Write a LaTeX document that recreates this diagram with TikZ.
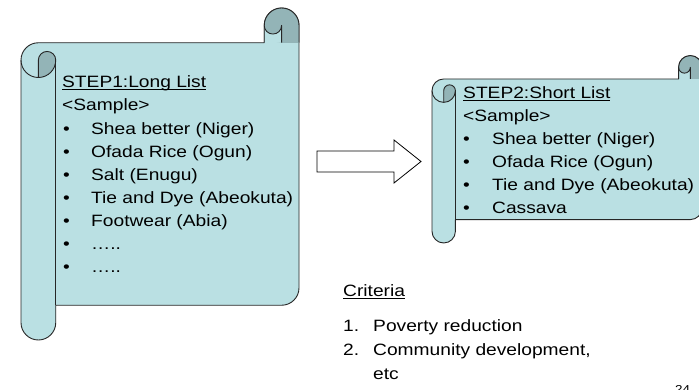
\documentclass[tikz,border=0pt]{standalone}
\usepackage{fontspec}
\setmainfont{Liberation Sans}[FakeStretch=1.17]
\definecolor{scrolllight}{RGB}{186,224,227}
\definecolor{scrolldark}{RGB}{147,180,183}
\newcommand\bodyfont{\fontsize{16.4}{23}\selectfont}
\newcommand\pagefont{\fontsize{11.5}{13}\selectfont}
% underline set close to the baseline
\newcommand\stepul[1]{\setbox0\hbox{#1}\rlap{\rule[-1.9pt]{\wd0}{1.1pt}}\box0}
% vertical scroll: #1 left, #2 top, #3 right, #4 bottom, #5 roll diameter
\newcommand\drawscroll[5]{%
  \pgfmathsetmacro\sL{#1}\pgfmathsetmacro\sT{#2}%
  \pgfmathsetmacro\sR{#3}\pgfmathsetmacro\sB{#4}%
  \pgfmathsetmacro\sc{#5}\pgfmathsetmacro\sh{#5/2}\pgfmathsetmacro\sq{#5/4}%
  \pgfmathsetmacro\sY{#2-#5}%
  % sheet with the left roll
  \draw[scrollline, fill=scrolllight]
    (\sL+\sh,\sY) -- (\sR-\sc,\sY) -- (\sR-\sc,\sT-\sh)
    arc[start angle=180,end angle=0,radius=\sh pt] -- (\sR,\sB+\sc+\sh)
    arc[start angle=0,end angle=-90,radius=\sh pt] -- (\sL+\sc,\sB+\sc)
    -- (\sL+\sc,\sB+\sh)
    arc[start angle=0,end angle=-180,radius=\sh pt] -- (\sL,\sY-\sh)
    arc[start angle=180,end angle=90,radius=\sh pt] -- cycle;
  % top right curl
  \fill[scrolldark] (\sR-\sh,\sT-\sh) circle[radius=\sh pt];
  \fill[scrolldark] (\sR-\sh,\sY) rectangle (\sR,\sT-\sh);
  \fill[scrolllight] (\sR-\sc,\sT-\sh) -- (\sR-\sc,\sY) -- (\sR-\sh,\sY)
    -- (\sR-\sh,\sT-\sh) arc[start angle=0,end angle=-180,radius=\sq pt] -- cycle;
  \draw[scrollline] (\sR-\sc,\sY) -- (\sR-\sc,\sT-\sh)
    arc[start angle=180,end angle=0,radius=\sh pt] -- (\sR,\sY);
  \draw[scrollline] (\sR-\sh,\sY) -- (\sR-\sh,\sT-\sh)
    arc[start angle=0,end angle=-180,radius=\sq pt];
  % top left curl
  \draw[scrollline, fill=scrolldark] (\sL+\sh,\sY-\sh) -- (\sL+\sh,\sY-\sc)
    arc[start angle=-90,end angle=0,radius=\sh pt]
    arc[start angle=0,end angle=180,radius=\sq pt] -- cycle;
  \draw[scrollline] (\sL,\sY-\sh) arc[start angle=180,end angle=270,radius=\sh pt];
  \draw[scrollline] (\sL+\sc,\sY-\sh) -- (\sL+\sc,\sB+\sc);
}
\tikzset{
  scrollline/.style={draw=black!85, line width=0.9pt, line join=round},
  txt/.style={anchor=base west, inner sep=0pt, font=\bodyfont},
  blockarrow/.style={draw=black, line width=0.8pt, fill=white, line join=miter}
}
\begin{document}
\begin{tikzpicture}[x=1pt,y=1pt]
  \path[use as bounding box, clip] (0,0) rectangle (699,390);
  \fill[white] (0,0) rectangle (699,390);

  % scrolls
  \drawscroll{21}{382}{299}{50}{34.75}
  \drawscroll{432}{334.4}{702}{147}{23.4}

  % long list
  \node[txt] (s1title) at (62,302) {\stepul{STEP1:Long List}};
  \node[txt] (s1sample) at (62,279) {<Sample>};
  \foreach [count=\i] \t in {Shea better (Niger), Ofada Rice (Ogun), Salt (Enugu),
      Tie and Dye (Abeokuta), Footwear (Abia), ….., …..} {
    \pgfmathsetmacro\yy{390-88-23.1*(\i+1)}
    \node[txt] (s1b\i) at (63,\yy) {•};
    \node[txt] (s1i\i) at (91,\yy) {\t};
  }

  % short list
  \node[txt] (s2title) at (463,291) {\stepul{STEP2:Short List}};
  \node[txt] (s2sample) at (463,268) {<Sample>};
  \foreach [count=\i] \t in {Shea better (Niger), Ofada Rice (Ogun),
      Tie and Dye (Abeokuta), Cassava} {
    \pgfmathsetmacro\yy{390-99-23*(\i+1)}
    \node[txt] (s2b\i) at (463,\yy) {•};
    \node[txt] (s2i\i) at (492,\yy) {\t};
  }

  % block arrow between the lists
  \draw[blockarrow] (317,239) -- (394,239) -- (394,250) -- (421,228.5)
    -- (394,207) -- (394,218) -- (317,218) -- cycle;

  % criteria
  \node[txt] (crit) at (343,93) {\stepul{Criteria}};
  \node[txt] (c1n) at (343,58) {1.};
  \node[txt] (c1) at (373,58) {Poverty reduction};
  \node[txt] (c2n) at (343,34) {2.};
  \node[txt] (c2) at (373,34) {Community development,};
  \node[txt] (c2b) at (373,10) {etc};

  % page number
  \node[anchor=base west, inner sep=0pt, font=\pagefont] (pageno) at (675,-3.5) {24};
\end{tikzpicture}
\end{document}
